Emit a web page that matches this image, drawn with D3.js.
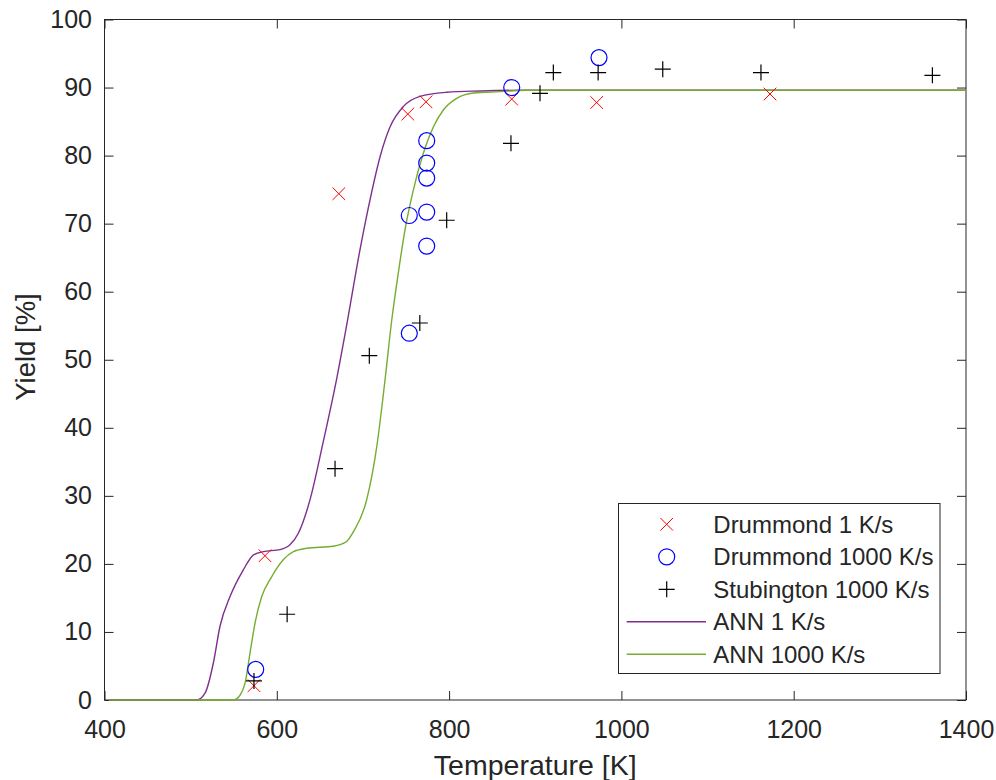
<!DOCTYPE html>
<html>
<head>
<meta charset="utf-8">
<script src="https://cdn.jsdelivr.net/npm/d3@7"></script>
<style>
  body { margin: 0; background: #fff; }
  text { font-family: "Liberation Sans", Arial, sans-serif; fill: #262626; }
</style>
</head>
<body>
<svg id="chart" width="996" height="780"></svg>
<script>
// measured points, temperature [K] vs yield [%]
var drum1T = [573.5, 586.3, 672, 752, 773.2, 872.7, 971.3, 1172.5];
var drum1Y = [2.1, 21.2, 74.4, 86.1, 87.9, 88.3, 87.8, 89.05];

var drum1000T = [575.5, 753.8, 753.8, 774, 774, 774, 774, 774, 872.7, 974];
var drum1000Y = [4.5, 53.9, 71.2, 66.7, 71.7, 76.7, 78.9, 82.2, 90.0, 94.4];

var stubT = [573.5, 612, 667.6, 707.4, 766, 797.2, 871.8, 905.5, 921, 973, 1048, 1162, 1361];
var stubY = [2.8, 12.6, 34.0, 50.6, 55.4, 70.5, 81.8, 89.15, 92.2, 92.2, 92.7, 92.2, 91.8];

// ANN model curves
var annSlowT = [405, 507, 516.7, 526.3, 534, 545.7, 561, 572.7, 584.3, 603.7, 615.3, 625, 638.5, 654, 669.5, 681, 696.6, 708.2, 719.8, 731.4, 746.8, 766.2, 797.2, 835.9, 880, 1400];
var annSlowY = [0, 0, 1.0, 5.4, 10.8, 15.2, 19.1, 21.3, 21.8, 22.1, 22.8, 24.5, 29.4, 38.0, 47.2, 55.0, 66.2, 73.5, 79.8, 84.2, 87.2, 88.7, 89.3, 89.5, 89.6, 89.6];

var annFastT = [405, 549.5, 557.3, 563, 568.9, 574.7, 582.5, 594, 607.5, 619.2, 634.7, 665.6, 681, 688.8, 704.3, 716, 725.6, 733.4, 741.1, 748.8, 758.4, 770, 781.7, 793.3, 808.8, 828.1, 859.1, 890, 1400];
var annFastY = [0, 0, 0.7, 2.4, 6.9, 11.3, 15.2, 18.1, 20.6, 21.8, 22.3, 22.6, 23.3, 24.7, 29.4, 37.2, 47.0, 55.8, 62.8, 69.1, 74.9, 80.3, 84.2, 86.7, 88.4, 89.2, 89.4, 89.6, 89.6];

var xTicks = [400, 600, 800, 1000, 1200, 1400];
var yTicks = [0, 10, 20, 30, 40, 50, 60, 70, 80, 90, 100];

var legendNames = ['Drummond 1 K/s', 'Drummond 1000 K/s', 'Stubington 1000 K/s', 'ANN 1 K/s', 'ANN 1000 K/s'];

var svg = d3.select('#chart');
var svgWidth = +svg.attr('width');
var svgHeight = +svg.attr('height');

var padding = {t: 19.5, r: 30, b: 80, l: 104.5};
var chartWidth = svgWidth - padding.l - padding.r;
var chartHeight = svgHeight - padding.t - padding.b;

var axisColor = '#262626';
var tickFont = 25;

var chartG = svg.append('g')
    .attr('transform', 'translate(' + [padding.l, padding.t] + ')');

var xScale = d3.scaleLinear().domain([400, 1400]).range([0, chartWidth]);
var yScale = d3.scaleLinear().domain([0, 100]).range([chartHeight, 0]);

function zip(xs, ys) {
    return xs.map(function(x, i) { return {t: x, y: ys[i]}; });
}

// box
chartG.append('rect')
    .attr('width', chartWidth)
    .attr('height', chartHeight)
    .attr('fill', 'none')
    .attr('stroke', axisColor)
    .attr('stroke-width', 1);

function styleAxis(g) {
    g.select('.domain').remove();
    g.selectAll('.tick line').attr('stroke', axisColor);
    g.selectAll('.tick text')
        .style('font-size', tickFont + 'px')
        .attr('fill', axisColor);
}

var xAx = chartG.append('g')
    .attr('transform', 'translate(' + [0, chartHeight] + ')')
    .call(d3.axisBottom(xScale).tickValues(xTicks).tickSize(-9).tickPadding(20.5).tickFormat(d3.format('d')));
styleAxis(xAx);

chartG.append('g')
    .call(d3.axisTop(xScale).tickValues(xTicks).tickSize(-9).tickFormat(''))
    .call(styleAxis);

var yAx = chartG.append('g')
    .call(d3.axisLeft(yScale).tickValues(yTicks).tickSize(-9).tickPadding(12.5).tickFormat(d3.format('d')));
styleAxis(yAx);

chartG.append('g')
    .attr('transform', 'translate(' + [chartWidth, 0] + ')')
    .call(d3.axisRight(yScale).tickValues(yTicks).tickSize(-9).tickFormat(''))
    .call(styleAxis);

// axis labels
svg.append('text')
    .attr('x', padding.l + chartWidth / 2)
    .attr('y', 775)
    .attr('text-anchor', 'middle')
    .style('font-size', '28.5px')
    .text('Temperature [K]');

svg.append('text')
    .attr('transform', 'translate(35,347) rotate(-90)')
    .attr('text-anchor', 'middle')
    .style('font-size', '27.5px')
    .text('Yield [%]');

// marker painters
function drawX(g, s) {
    g.append('path')
        .attr('d', 'M' + (-s) + ',' + (-s) + 'L' + s + ',' + s + 'M' + (-s) + ',' + s + 'L' + s + ',' + (-s))
        .attr('stroke', '#ff0000').attr('stroke-width', 1).attr('fill', 'none');
}
function drawO(g, r) {
    g.append('circle').attr('r', r)
        .attr('stroke', '#0000ff').attr('stroke-width', 1.2).attr('fill', 'none');
}
function drawPlus(g, s) {
    g.append('path')
        .attr('d', 'M' + (-s) + ',0L' + s + ',0M0,' + (-s) + 'L0,' + s)
        .attr('stroke', '#000').attr('stroke-width', 1.2).attr('fill', 'none');
}

var plotG = chartG.append('g');

// model lines
var line = d3.line()
    .curve(d3.curveMonotoneX)
    .x(function(d) { return xScale(d.t); })
    .y(function(d) { return yScale(d.y); });

var lineColors = ['#7E2F8E', '#77AC30'];

plotG.append('path')
    .datum(zip(annSlowT, annSlowY))
    .attr('d', line)
    .attr('fill', 'none')
    .attr('stroke', lineColors[0])
    .attr('stroke-width', 1.4);

plotG.append('path')
    .datum(zip(annFastT, annFastY))
    .attr('d', line)
    .attr('fill', 'none')
    .attr('stroke', lineColors[1])
    .attr('stroke-width', 1.4);

// scatter series
function scatter(ts, ys, painter, size) {
    zip(ts, ys).forEach(function(d) {
        var g = plotG.append('g')
            .attr('transform', 'translate(' + [xScale(d.t), yScale(d.y)] + ')');
        painter(g, size);
    });
}
scatter(drum1T, drum1Y, drawX, 6.3);
scatter(drum1000T, drum1000Y, drawO, 8);
scatter(stubT, stubY, drawPlus, 8);

// legend
var legX = 618.5, legY = 503.5, legW = 321.5, legH = 170;
var legG = svg.append('g');
legG.append('rect')
    .attr('x', legX).attr('y', legY)
    .attr('width', legW).attr('height', legH)
    .attr('fill', '#fff')
    .attr('stroke', axisColor)
    .attr('stroke-width', 1);

var rowY = d3.scaleLinear().domain([0, 4]).range([524.3, 654.3]);
var painters = [drawX, drawO, drawPlus];
var sizes = [6.3, 8, 8];

legendNames.forEach(function(name, i) {
    var y = rowY(i);
    if (i < 3) {
        var g = legG.append('g').attr('transform', 'translate(' + [666.7, y] + ')');
        painters[i](g, sizes[i]);
    } else {
        legG.append('line')
            .attr('x1', 626.7).attr('x2', 706)
            .attr('y1', y).attr('y2', y)
            .attr('stroke', lineColors[i - 3])
            .attr('stroke-width', 1.4);
    }
    legG.append('text')
        .attr('x', 713.3)
        .attr('y', y)
        .attr('dy', '0.35em')
        .style('font-size', '24px')
        .text(name);
});
</script>
</body>
</html>
